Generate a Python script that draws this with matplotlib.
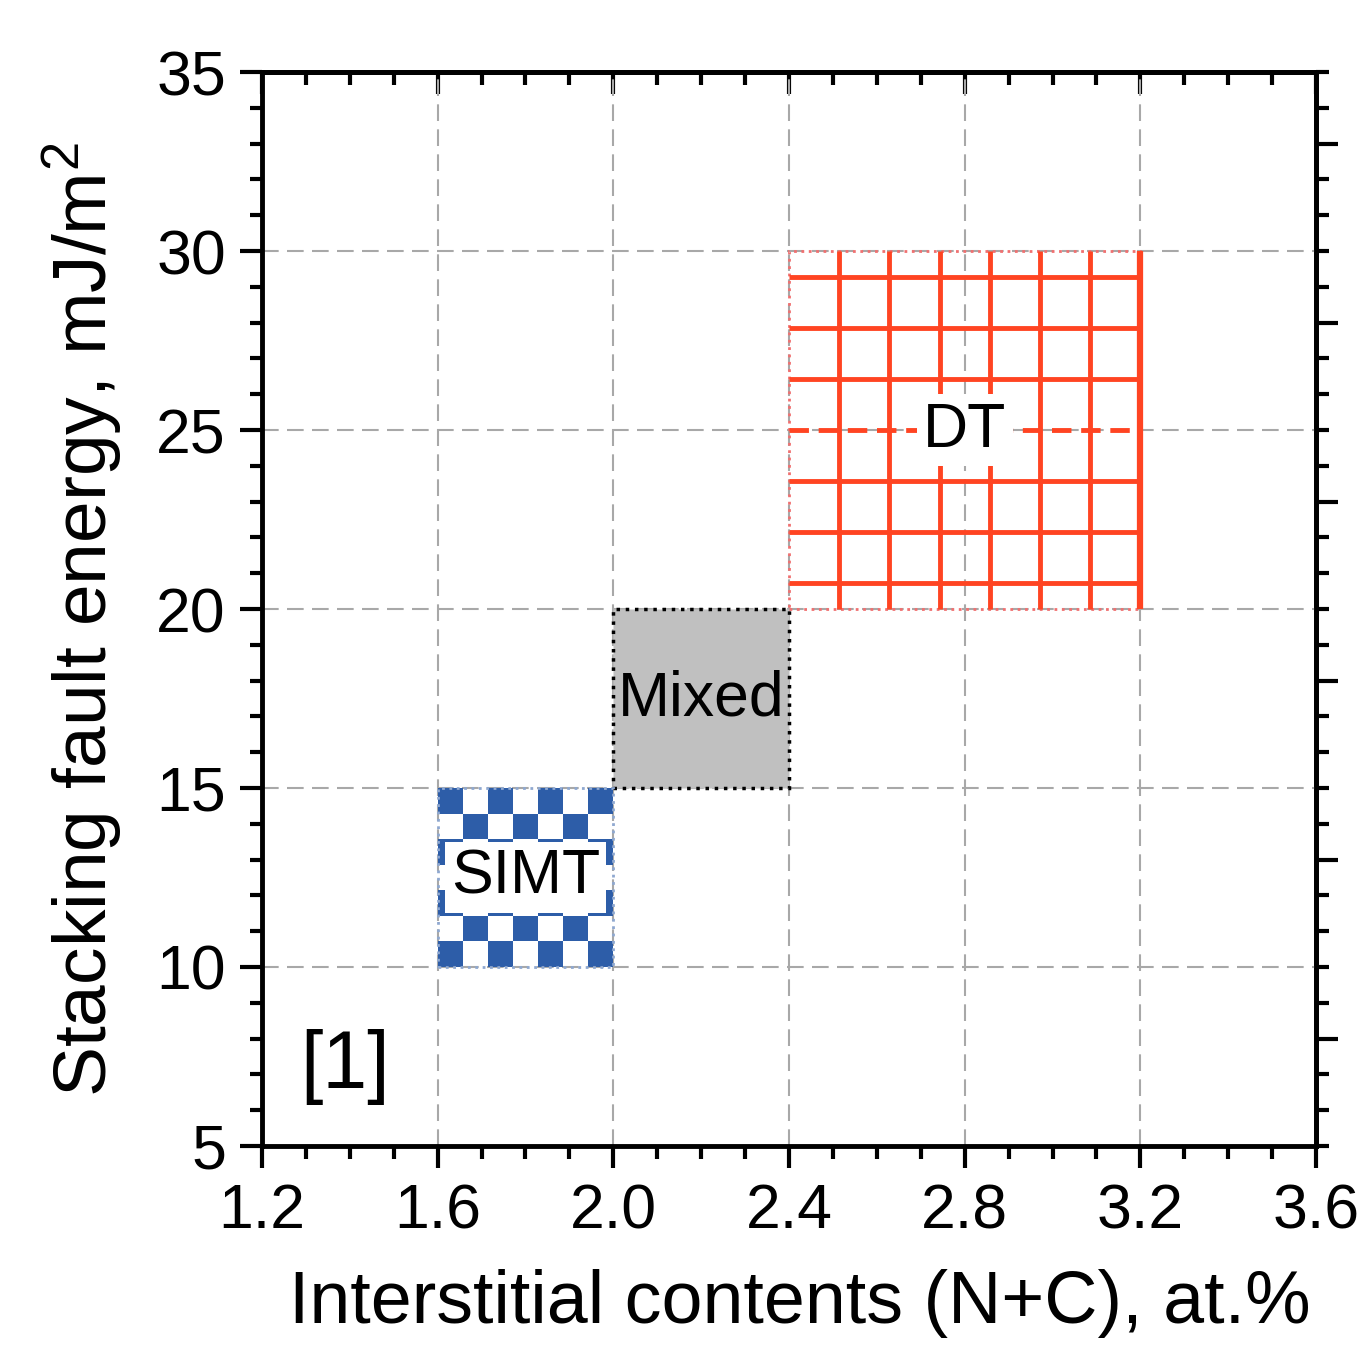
import numpy as np
import matplotlib
matplotlib.use('Agg')
import matplotlib.pyplot as plt
from matplotlib.patches import Rectangle
from matplotlib.ticker import MultipleLocator

plt.rcParams['font.family'] = ['Liberation Sans', 'DejaVu Sans']
plt.rcParams['mathtext.fontset'] = 'custom'
plt.rcParams['mathtext.rm'] = 'Liberation Sans'
plt.rcParams['mathtext.it'] = 'Liberation Sans:italic'

# deformation mechanism regions
mechanisms = ['SIMT', 'Mixed', 'DT']
x_lo = [1.6, 2.0, 2.4]
x_hi = [2.0, 2.4, 3.2]
y_lo = [10, 15, 20]
y_hi = [15, 20, 30]

x_ticks = [1.2, 1.6, 2.0, 2.4, 2.8, 3.2, 3.6]
x_ticklabels = ['1.2', '1.6', '2.0', '2.4', '2.8', '3.2', '3.6']
y_ticks = [5, 10, 15, 20, 25, 30, 35]
right_ticks = [8, 13, 18, 23, 28, 33]

BLUE = '#2D5DA8'
RED = '#FF4422'
GRAY = '#C0C0C0'
N_CELLS = 7


def main():
    fig = plt.figure(figsize=(13.58, 13.49), dpi=100)
    ax = fig.add_axes([0.1929, 0.1505, 0.7762, 0.7961])
    ax.set_xlim(1.2, 3.6)
    ax.set_ylim(5, 35)

    ax.set_axisbelow(True)
    ax.grid(True, which='major', color='#A8A8A8', lw=1.5, ls=(0, (8, 4)))

    # SIMT: blue checkerboard
    x0, x1, y0, y1 = x_lo[0], x_hi[0], y_lo[0], y_hi[0]
    dx = (x1 - x0) / N_CELLS
    dy = (y1 - y0) / N_CELLS
    for r in range(N_CELLS):
        for c in range(N_CELLS):
            if (r + c) % 2 == 0:
                ax.add_patch(Rectangle((x0 + c * dx, y0 + r * dy), dx, dy,
                                       facecolor=BLUE, edgecolor='none', zorder=2))
    ax.add_patch(Rectangle((x0, y0), x1 - x0, y1 - y0, facecolor='none',
                           edgecolor='#8FA8D0', lw=2, ls=':', zorder=3))

    # Mixed: gray block with dotted border
    ax.add_patch(Rectangle((x_lo[1], y_lo[1]), x_hi[1] - x_lo[1], y_hi[1] - y_lo[1],
                           facecolor=GRAY, edgecolor='black', lw=2.5, ls=':', zorder=2))

    # DT: red grid
    x0, x1, y0, y1 = x_lo[2], x_hi[2], y_lo[2], y_hi[2]
    dx = (x1 - x0) / N_CELLS
    dy = (y1 - y0) / N_CELLS
    ax.add_patch(Rectangle((x0, y0), x1 - x0, y1 - y0, facecolor='none',
                           edgecolor='#F07070', lw=2, ls=':', zorder=2))
    for k in range(1, N_CELLS + 1):
        xv = x0 + k * dx
        ax.plot([xv, xv], [y0, y1], color=RED, lw=3.5 if k < N_CELLS else 4.5,
                solid_capstyle='butt', zorder=3)
    for k in range(N_CELLS):
        yh = y0 + (k + 0.5) * dy
        ls = (0, (4, 2)) if k == N_CELLS // 2 else '-'
        ax.plot([x0, x1], [yh, yh], color=RED, lw=3.5, ls=ls,
                solid_capstyle='butt', zorder=3)

    # labels in region centres
    for i, name in enumerate(mechanisms):
        cx = (x_lo[i] + x_hi[i]) / 2
        cy = (y_lo[i] + y_hi[i]) / 2
        if name == 'Mixed':
            ax.text(cx, cy, name, fontsize=45, ha='center', va='center', zorder=5)
        else:
            ax.text(cx, cy, name, fontsize=45, ha='center', va='center', zorder=5,
                    bbox=dict(boxstyle='square,pad=0.1', facecolor='white',
                              edgecolor='none'))

    ax.text(1.39, 7.2, '[1]', fontsize=58, ha='center', va='center')

    # axes and ticks
    ax.set_xticks(x_ticks)
    ax.set_xticklabels(x_ticklabels)
    ax.set_yticks(y_ticks)
    ax.xaxis.set_minor_locator(MultipleLocator(0.1))
    ax.yaxis.set_minor_locator(MultipleLocator(1))
    ax.tick_params(which='both', direction='out', top=False, right=False,
                   width=3, labelsize=45)
    ax.tick_params(which='major', length=16)
    ax.tick_params(which='minor', length=9)
    ax.tick_params(axis='x', pad=10)
    ax.tick_params(axis='y', pad=10)
    for s in ax.spines.values():
        s.set_linewidth(3.5)

    top = ax.secondary_xaxis('top')
    top.set_xticks(x_ticks)
    top.xaxis.set_minor_locator(MultipleLocator(0.1))
    top.tick_params(which='both', direction='in', labeltop=False, width=3)
    top.tick_params(which='major', length=16)
    top.tick_params(which='minor', length=9)
    top.spines['top'].set_linewidth(3.5)

    right = ax.secondary_yaxis('right')
    right.set_yticks(right_ticks)
    right.yaxis.set_minor_locator(MultipleLocator(1))
    right.tick_params(which='both', direction='out', labelright=False, width=3)
    right.tick_params(which='major', length=16)
    right.tick_params(which='minor', length=9)
    right.spines['right'].set_linewidth(3.5)

    ax.set_xlabel('Interstitial contents (N+C), at.%', fontsize=53)
    ax.set_ylabel('Stacking fault energy, mJ/m$^2$', fontsize=54)
    ax.xaxis.set_label_coords(0.51, -0.115)
    ax.yaxis.set_label_coords(-0.13, 0.49)

    fig.savefig('out.png', dpi=100)


if __name__ == '__main__':
    main()
